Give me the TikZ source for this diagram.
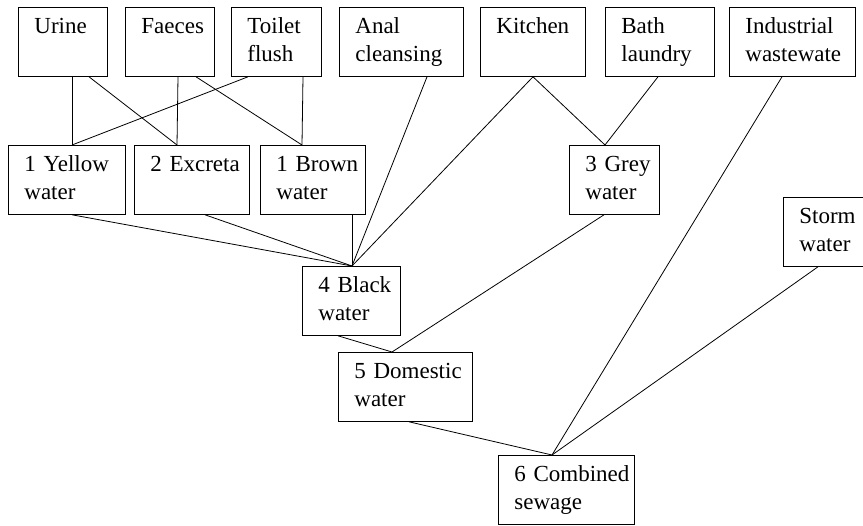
\documentclass[tikz,border=0pt]{standalone}
\usepackage{fontspec}
\setmainfont{Liberation Serif}
\hyphenpenalty=10000

\tikzset{
  box/.style={draw, line width=0.8pt, anchor=north west, align=left,
    inner xsep=16pt, inner ysep=0pt, minimum height=69pt, text width=#1,
    font=\fontsize{23}{28}\selectfont,
    execute at begin node=\strut, execute at end node=\strut},
  link/.style={line width=0.8pt}
}

\begin{document}
\begin{tikzpicture}[x=1pt, y=-1pt]

    % 1. Frame of the picture (pixel grid, y runs down)
    \useasboundingbox (0,0) rectangle (863,526);

    % 2. Sources (top row)
    \node[box=57pt] (urine)      at (18,7)  {Urine\\};
    \node[box=57pt] (faeces)     at (125,7) {Faeces\\};
    \node[box=58pt] (flush)      at (231,7) {Toilet\\flush};
    \node[box=92pt] (anal)       at (339,7) {Anal\\cleansing};
    \node[box=73pt] (kitchen)    at (480,7) {Kitchen\\};
    \node[box=77pt] (bath)       at (605,7) {Bath\\laundry};
    \node[box=94pt] (industrial) at (729,7) {Industrial\\wastewate};

    % 3. Separated streams
    \node[box=85pt] (yellow)  at (8,145)   {1~Yellow\\water};
    \node[box=83pt] (excreta) at (134,145) {2~Excreta\\};
    \node[box=73pt] (brown)   at (260,145) {1~Brown\\water};
    \node[box=58pt] (grey)    at (569,145) {3~Grey\\water};
    \node[box=50pt] (storm)   at (783,197) {Storm\\water};

    % 4. Mixed streams
    \node[box=66pt]  (black)    at (302,266) {4~Black\\water};
    \node[box=102pt] (domestic) at (338,352) {5~Domestic\\water};
    \node[box=104pt] (combined) at (498,455) {6~Combined\\sewage};

    % 5. Links between the boxes
    \draw[link] ([xshift=54pt]urine.south west)  -- ([xshift=64pt]yellow.north west);
    \draw[link] ([xshift=71pt]urine.south west)  -- ([xshift=43pt]excreta.north west);
    \draw[link] ([xshift=53pt]faeces.south west) -- ([xshift=43pt]excreta.north west);
    \draw[link] ([xshift=71pt]faeces.south west) -- ([xshift=42pt]brown.north west);
    \draw[link] ([xshift=17pt]flush.south west)  -- ([xshift=64pt]yellow.north west);
    \draw[link] ([xshift=72pt]flush.south west)  -- ([xshift=42pt]brown.north west);

    \draw[link] ([xshift=64pt]yellow.south west)  -- ([xshift=50pt]black.north west);
    \draw[link] ([xshift=71pt]excreta.south west) -- ([xshift=50pt]black.north west);
    \draw[link] ([xshift=92pt]brown.south west)   -- ([xshift=50pt]black.north west);
    \draw[link] ([xshift=88pt]anal.south west)    -- ([xshift=50pt]black.north west);
    \draw[link] ([xshift=53pt]kitchen.south west) -- ([xshift=50pt]black.north west);

    \draw[link] ([xshift=53pt]kitchen.south west) -- ([xshift=36pt]grey.north west);
    \draw[link] ([xshift=53pt]bath.south west)    -- ([xshift=36pt]grey.north west);

    \draw[link] ([xshift=35pt]grey.south west)  -- ([xshift=54pt]domestic.north west);
    \draw[link] ([xshift=36pt]black.south west) -- ([xshift=54pt]domestic.north west);

    \draw[link] ([xshift=71pt]domestic.south west)   -- ([xshift=54pt]combined.north west);
    \draw[link] ([xshift=53pt]industrial.south west) -- ([xshift=54pt]combined.north west);
    \draw[link] ([xshift=35pt]storm.south west)      -- ([xshift=54pt]combined.north west);

  \end{tikzpicture}
\end{document}
